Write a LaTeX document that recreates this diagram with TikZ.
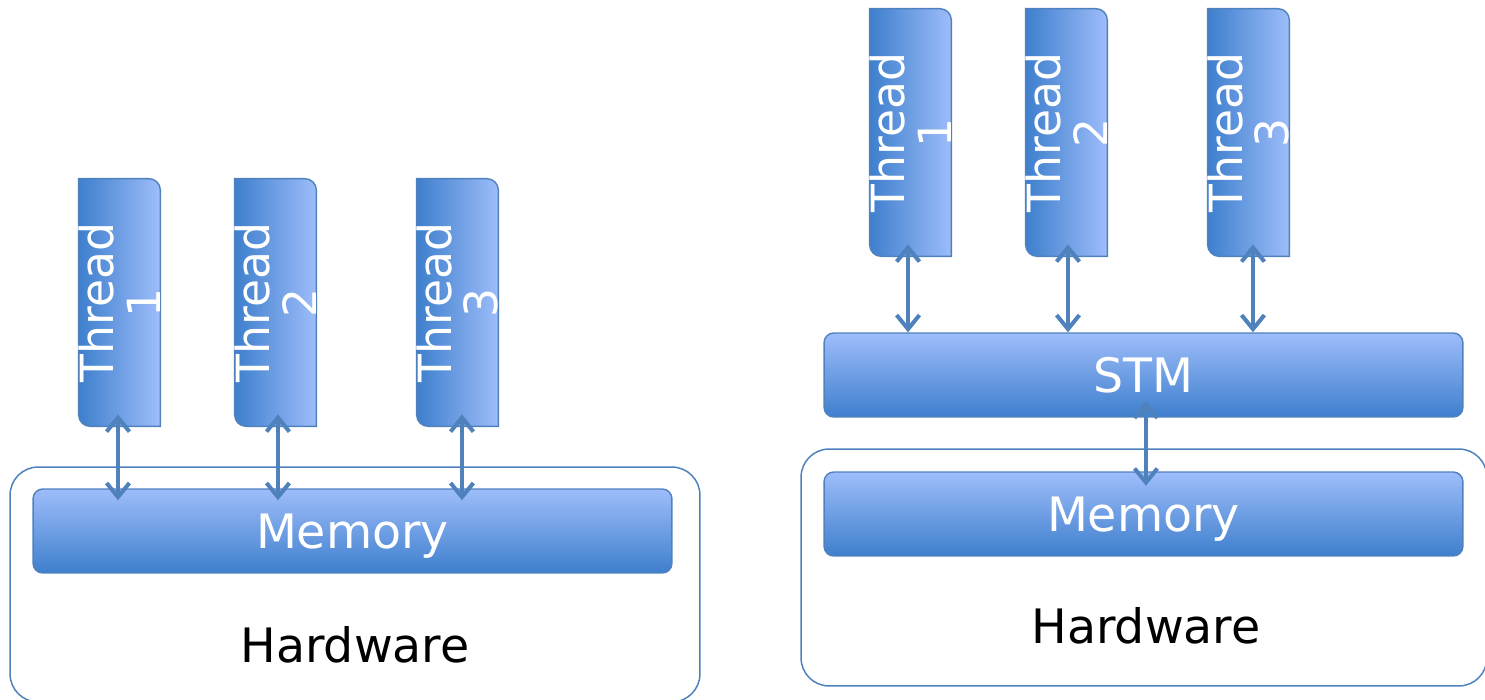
\documentclass[tikz,border=0pt]{standalone}
\usepackage{fontspec}
\setmainfont{DejaVu Sans}
\usetikzlibrary{arrows.meta}

\definecolor{boxdark}{RGB}{62,127,205}
\definecolor{boxlight}{RGB}{158,189,250}
\definecolor{edgeblue}{RGB}{79,129,189}

% thread box, rounded only at top right and bottom left
\newcommand{\threadbox}[1]{%
  \path[left color=boxdark, right color=boxlight, draw=edgeblue, line width=0.8pt]
    (#1.north west) -- ([xshift=-6.5pt]#1.north east)
    arc[start angle=90, end angle=0, radius=6.5pt] -- (#1.south east)
    -- ([xshift=6.5pt]#1.south west)
    arc[start angle=270, end angle=180, radius=6.5pt] -- cycle;}

\begin{document}
\begin{tikzpicture}[x=0.02cm, y=-0.02cm,
    thread/.style={minimum width=1.62cm, minimum height=4.94cm, inner sep=0pt},
    threadtext/.style={rotate=90, align=center, text=white, inner sep=0pt,
      font=\fontsize{26}{26.5}\selectfont},
    bar/.style={draw=edgeblue, line width=0.8pt, rounded corners=5.5pt,
      top color=boxlight, bottom color=boxdark, text=white, inner sep=0pt,
      minimum width=12.78cm, minimum height=1.68cm, text height=19.7pt, text depth=0pt,
      font=\fontsize{27}{30}\selectfont},
    hw/.style={draw=edgeblue, line width=0.85pt, rounded corners=16pt,
      minimum width=13.8cm, minimum height=4.7cm},
    hwtext/.style={text height=19.7pt, text depth=0pt, inner sep=0pt,
      font=\fontsize{27}{30}\selectfont},
    link/.style={edgeblue, line width=2.3pt, >={Straight Barb[length=8pt, width=13pt]}, <->}]
  \clip (0,0) rectangle (1485,700);
  % hardware frames
  \node[hw] (hwl) at (355,584.5) {};
  \node[hw, minimum width=13.72cm, minimum height=4.74cm] (hwr) at (1144,567.5) {};
  \node[hwtext] (hwlt) at (355,645) {Hardware};
  \node[hwtext] (hwrt) at (1146,626) {Hardware};
  % memory and stm bars
  \node[bar] (meml) at (352.5,531) {Memory};
  \node[bar] (memr) at (1143.5,514) {Memory};
  \node[bar] (stm) at (1143.5,375) {STM};
  % threads, left
  \foreach \i/\x in {1/119.5, 2/275.5, 3/457.5} {
    \node[thread] (tl\i) at (\x,302.5) {};
    \threadbox{tl\i}
    \node[threadtext] (tlt\i) at (tl\i) {Thread\\\i};
  }
  % threads, right
  \foreach \i/\x in {1/910.5, 2/1066.5, 3/1248.5} {
    \node[thread] (tr\i) at (\x,132.5) {};
    \threadbox{tr\i}
    \node[threadtext] (trt\i) at (tr\i) {Thread\\\i};
  }
  % arrows
  \foreach \i/\dx in {1/-0.85, 2/1.4, 3/2.55}
    \draw[link, shorten <=-6.8pt, shorten >=-6.8pt]
      ([xshift=\dx pt]tl\i.south) -- ([xshift=\dx pt]tl\i.south |- meml.north);
  \foreach \i/\dx in {1/-1.4, 2/0.85, 3/2.55}
    \draw[link, shorten <=-6.8pt]
      ([xshift=\dx pt]tr\i.south) -- ([xshift=\dx pt]tr\i.south |- stm.north);
  \draw[link, shorten <=-9.6pt, shorten >=-8.2pt]
    ([xshift=1.4pt]stm.south) -- ([xshift=1.4pt]memr.north);
\end{tikzpicture}
\end{document}
